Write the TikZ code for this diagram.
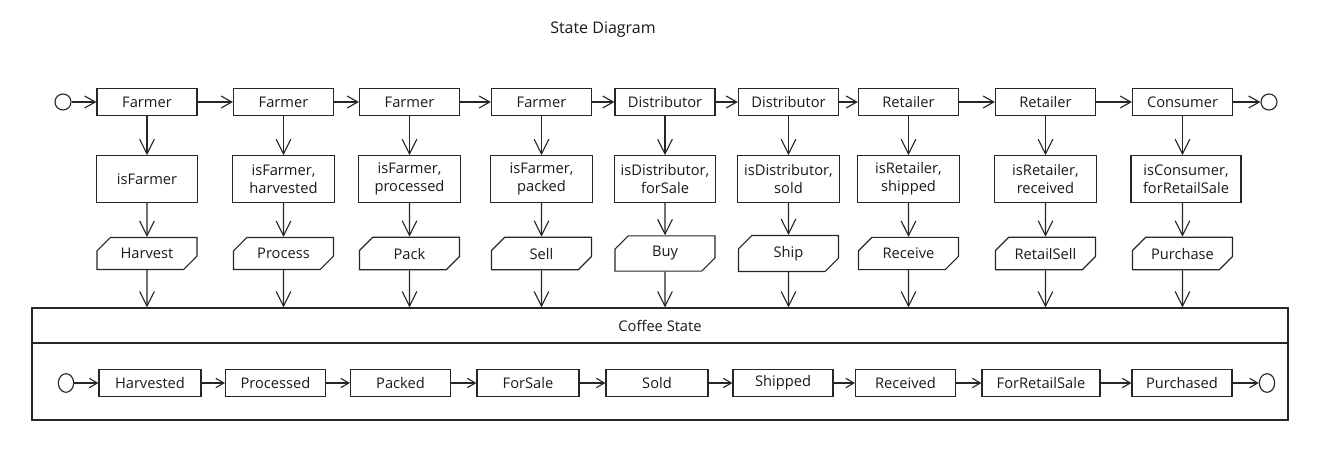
\documentclass[tikz,border=0pt]{standalone}
\usepackage{fontspec}
\setmainfont{Open Sans}
\usetikzlibrary{arrows.meta,shapes.misc,shapes.geometric}

\tikzset{
  sketch/.style={draw=black!85, line width=0.85pt},
  role/.style={sketch, rectangle, minimum width=75pt, minimum height=20pt, inner sep=2pt},
  guard/.style={sketch, rectangle, minimum width=76pt, minimum height=35pt, inner sep=2pt, align=center},
  action/.style={sketch, chamfered rectangle, chamfered rectangle corners={north west,south east},
    chamfered rectangle xsep=4pt, chamfered rectangle ysep=6pt,
    minimum width=75pt, minimum height=20pt, inner sep=2pt},
  state/.style={role},
  pseudo/.style={sketch, circle, minimum size=12pt, inner sep=0pt},
  pseudoin/.style={sketch, ellipse, minimum width=11.5pt, minimum height=14pt, inner sep=0pt},
  down/.style={sketch, -{Straight Barb[length=11pt,width=11pt]}},
  across/.style={sketch, -{Straight Barb[length=8pt,width=9pt]}},
  chain/.style={sketch, -{Straight Barb[length=6pt,width=7pt]}}
}

\begin{document}
\begin{tikzpicture}[x=0.75pt, y=-0.75pt, every node/.style={font=\fontsize{11}{13.5}\selectfont, text=black!90}]

    \useasboundingbox (0,0) rectangle (1317,450);

    % Заголовок
    \node[font=\fontsize{12}{14}\selectfont] (title) at (603,30) {State Diagram};

    % Роли (верхний ряд)
    \node[pseudo] (begin) at (63,102) {};
    \node[role] (r1) at (147,102) {Farmer};
    \node[role] (r2) at (283.5,102) {Farmer};
    \node[role] (r3) at (409.5,102) {Farmer};
    \node[role] (r4) at (541.5,102) {Farmer};
    \node[role] (r5) at (665,102) {Distributor};
    \node[role] (r6) at (788.5,102) {Distributor};
    \node[role] (r7) at (908.5,102) {Retailer};
    \node[role] (r8) at (1045.5,102) {Retailer};
    \node[role] (r9) at (1182.5,102) {Consumer};
    \node[pseudo] (finish) at (1269,102) {};

    \draw[across] (begin) -- (r1);
    \draw[across] (r1) -- (r2);
    \draw[across] (r2) -- (r3);
    \draw[across] (r3) -- (r4);
    \draw[across] (r4) -- (r5);
    \draw[across] (r5) -- (r6);
    \draw[across] (r6) -- (r7);
    \draw[across] (r7) -- (r8);
    \draw[across] (r8) -- (r9);
    \draw[across] (r9) -- (finish);

    % Условия
    \node[guard] (g1) at (147,179) {isFarmer};
    \node[guard] (g2) at (283.5,179) {isFarmer,\\harvested};
    \node[guard] (g3) at (409.5,179) {isFarmer,\\processed};
    \node[guard] (g4) at (541.5,179) {isFarmer,\\packed};
    \node[guard] (g5) at (665,179) {isDistributor,\\forSale};
    \node[guard] (g6) at (788.5,179) {isDistributor,\\sold};
    \node[guard] (g7) at (908.5,179) {isRetailer,\\shipped};
    \node[guard] (g8) at (1045.5,179) {isRetailer,\\received};
    \node[guard, minimum width=82.5pt] (g9) at (1186,179) {isConsumer,\\forRetailSale};

    % Действия
    \node[action] (a1) at (147,253.5) {Harvest};
    \node[action] (a2) at (283.5,253.5) {Process};
    \node[action] (a3) at (409.5,253.5) {Pack};
    \node[action] (a4) at (541.5,253.5) {Sell};
    \node[action] (a5) at (665,253.5) {Buy};
    \node[action] (a6) at (788.5,253.5) {Ship};
    \node[action] (a7) at (908.5,253.5) {Receive};
    \node[action] (a8) at (1045.5,253.5) {RetailSell};
    \node[action] (a9) at (1182.5,253.5) {Purchase};

    % Состояние кофе
    \node[sketch, minimum width=942pt, minimum height=26.25pt] (head) at (660,325.5) {Coffee State};
    \node[sketch, minimum width=942pt, minimum height=57.75pt] (body) at (660,381.5) {};

    % Стрелки вниз
    \draw[down] (r1) -- (g1);  \draw[down] (g1) -- (a1);  \draw[down] (a1) -- (a1 |- head.north);
    \draw[down] (r2) -- (g2);  \draw[down] (g2) -- (a2);  \draw[down] (a2) -- (a2 |- head.north);
    \draw[down] (r3) -- (g3);  \draw[down] (g3) -- (a3);  \draw[down] (a3) -- (a3 |- head.north);
    \draw[down] (r4) -- (g4);  \draw[down] (g4) -- (a4);  \draw[down] (a4) -- (a4 |- head.north);
    \draw[down] (r5) -- (g5);  \draw[down] (g5) -- (a5);  \draw[down] (a5) -- (a5 |- head.north);
    \draw[down] (r6) -- (g6);  \draw[down] (g6) -- (a6);  \draw[down] (a6) -- (a6 |- head.north);
    \draw[down] (r7) -- (g7);  \draw[down] (g7) -- (a7);  \draw[down] (a7) -- (a7 |- head.north);
    \draw[down] (r8) -- (g8);  \draw[down] (g8) -- (a8);  \draw[down] (a8) -- (a8 |- head.north);
    \draw[down] (r9) -- (r9 |- g9.north);  \draw[down] (g9.south -| a9) -- (a9);  \draw[down] (a9) -- (a9 |- head.north);

    % Состояния (нижний ряд)
    \node[pseudoin] (s0) at (66,383) {};
    \node[state, minimum width=76.5pt] (s1) at (150,383) {Harvested};
    \node[state] (s2) at (275.5,383) {Processed};
    \node[state] (s3) at (400.5,383) {Packed};
    \node[state, minimum width=76.5pt] (s4) at (528,383) {ForSale};
    \node[state, minimum width=76.5pt] (s5) at (657,383) {Sold};
    \node[state] (s6) at (783,383) {Shipped};
    \node[state] (s7) at (905.5,383) {Received};
    \node[state, minimum width=88.5pt] (s8) at (1041,383) {ForRetailSale};
    \node[state] (s9) at (1182,383) {Purchased};
    \node[pseudoin] (s10) at (1267,383) {};

    \draw[chain] (s0) -- (s1);
    \draw[chain] (s1) -- (s2);
    \draw[chain] (s2) -- (s3);
    \draw[chain] (s3) -- (s4);
    \draw[chain] (s4) -- (s5);
    \draw[chain] (s5) -- (s6);
    \draw[chain] (s6) -- (s7);
    \draw[chain] (s7) -- (s8);
    \draw[chain] (s8) -- (s9);
    \draw[chain] (s9) -- (s10);

\end{tikzpicture}
\end{document}
